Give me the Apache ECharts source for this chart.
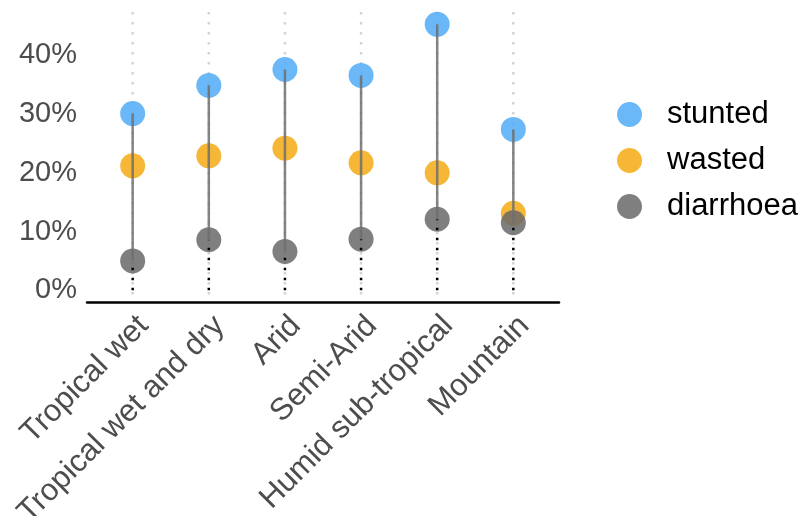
<!DOCTYPE html>
<html>
<head>
<meta charset="utf-8">
<script src="https://cdn.jsdelivr.net/npm/echarts@6/dist/echarts.min.js"></script>
<style>
  html, body { margin: 0; padding: 0; background: #fff; }
  #chart { width: 806px; height: 516px; }
</style>
</head>
<body>
<div id="chart"></div>
<script>
const categories = ['Tropical wet', 'Tropical wet and dry', 'Arid', 'Semi-Arid', 'Humid sub-tropical', 'Mountain'];
const stunted = [30.1, 34.9, 37.6, 36.6, 45.3, 27.4];
const wasted = [21.2, 22.9, 24.2, 21.7, 20.0, 13.1];
const diarrhoea = [5.0, 8.6, 6.6, 8.7, 12.1, 11.5];
const yTicks = [0, 10, 20, 30, 40];
const seriesNames = ['stunted', 'wasted', 'diarrhoea'];
const seriesColors = ['#50abf7', '#f3aa12', '#696969'];

const chart = echarts.init(document.getElementById('chart'), null, { renderer: 'canvas' });
const catIdx = categories.map((c, i) => i);
const seriesValues = [stunted, wasted, diarrhoea];

const rangeData = catIdx.map(i => {
  const vals = [stunted[i], wasted[i], diarrhoea[i]];
  return [i, Math.min(...vals), Math.max(...vals)];
});
const zeroData = catIdx.map(i => [i, 0, diarrhoea[i]]);

function segment(stroke, dash) {
  return function (params, api) {
    const p1 = api.coord([api.value(0), api.value(1)]);
    const p2 = api.coord([api.value(0), api.value(2)]);
    return {
      type: 'line',
      shape: { x1: p1[0], y1: p1[1], x2: p2[0], y2: p2[1] },
      style: { stroke: stroke, lineWidth: 2.5, lineDash: dash }
    };
  };
}

function gridLine(params, api) {
  const cs = params.coordSys;
  const x = api.coord([api.value(0), 0])[0];
  return {
    type: 'line',
    shape: { x1: x, y1: cs.y, x2: x, y2: cs.y + cs.height },
    style: { stroke: '#d4d4d4', lineWidth: 2.5, lineDash: [2.5, 7.5] }
  };
}

const fontFam = 'Liberation Sans, Arial, sans-serif';

const option = {
  backgroundColor: '#ffffff',
  animation: false,
  grid: { left: 87, right: 247, top: 12, bottom: 214, containLabel: false, outerBoundsMode: 'none' },
  legend: {
    data: seriesNames,
    orient: 'vertical',
    left: 612,
    top: 94,
    icon: 'circle',
    itemWidth: 25,
    itemHeight: 25,
    itemGap: 15,
    textStyle: { fontSize: 31, color: '#000', fontFamily: fontFam, padding: [0, 0, 0, 20] }
  },
  xAxis: {
    type: 'value',
    min: -0.6,
    max: 5.6,
    axisLine: { show: true, onZero: false, lineStyle: { color: '#000', width: 2.5 } },
    axisTick: { show: false },
    splitLine: { show: false },
    axisLabel: {
      customValues: catIdx,
      formatter: v => categories[Math.round(v)],
      rotate: 45,
      align: 'right',
      verticalAlign: 'top',
      fontSize: 31,
      color: '#4d4d4d',
      fontFamily: fontFam,
      margin: 8
    }
  },
  yAxis: {
    type: 'value',
    min: -2.0,
    max: 47.4,
    axisLine: { show: false, onZero: false },
    axisTick: { show: false },
    splitLine: { show: false },
    axisLabel: {
      customValues: yTicks,
      formatter: v => v + '%',
      fontSize: 29,
      color: '#4d4d4d',
      fontFamily: fontFam,
      margin: 10,
      padding: [4, 0, 0, 0]
    }
  },
  series: [
    {
      name: 'grid',
      type: 'custom',
      z: 0,
      silent: true,
      renderItem: gridLine,
      encode: { x: 0, y: 1 },
      data: catIdx.map(i => [i, 0])
    },
    ...seriesNames.map((name, k) => ({
      name: name,
      type: 'scatter',
      symbol: 'circle',
      symbolSize: 25,
      z: 2,
      itemStyle: { color: seriesColors[k], opacity: 0.85 },
      data: catIdx.map(i => [i, seriesValues[k][i]])
    })),
    {
      name: 'zero',
      type: 'custom',
      z: 3,
      silent: true,
      renderItem: segment('#000000', [2.5, 7.5]),
      encode: { x: 0, y: [1, 2] },
      data: zeroData
    },
    {
      name: 'range',
      type: 'custom',
      z: 4,
      silent: true,
      renderItem: segment('rgba(110,110,110,0.85)', null),
      encode: { x: 0, y: [1, 2] },
      data: rangeData
    }
  ]
};
chart.setOption(option);
</script>
</body>
</html>
